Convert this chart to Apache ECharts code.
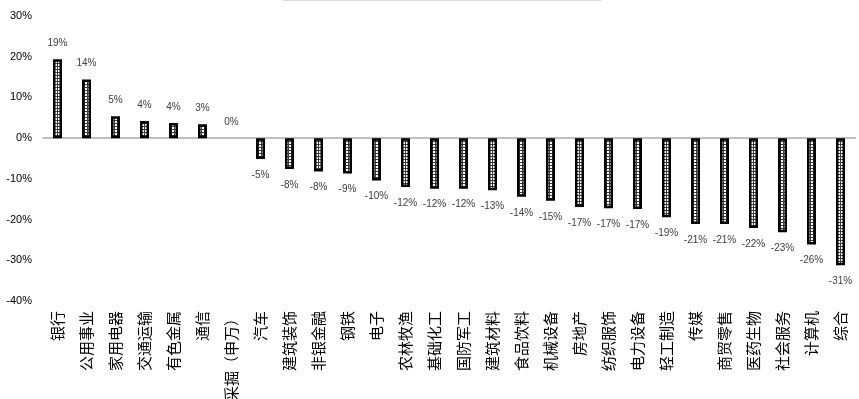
<!DOCTYPE html>
<html>
<head>
<meta charset="utf-8">
<script src="https://cdn.jsdelivr.net/npm/echarts@6/dist/echarts.min.js"></script>
<style>
  html, body { margin: 0; padding: 0; background: #fff; }
  #container { width: 859px; height: 399px; }
</style>
</head>
<body>
<div id="container"></div>
<script>
// industries (申万一级), sorted by return
let categories = ['银行', '公用事业', '家用电器', '交通运输', '有色金属', '通信', '采掘（申万）',
    '汽车', '建筑装饰', '非银金融', '钢铁', '电子', '农林牧渔', '基础化工', '国防军工',
    '建筑材料', '食品饮料', '机械设备', '房地产', '纺织服饰', '电力设备', '轻工制造',
    '传媒', '商贸零售', '医药生物', '社会服务', '计算机', '综合'];

// return in %
let returns = [19.4, 14.4, 5.4, 4.2, 3.7, 3.4, 0,
    -5.1, -7.6, -8.2, -8.7, -10.4, -12.0, -12.4, -12.4,
    -12.8, -14.4, -15.4, -16.9, -17.2, -17.4, -19.4,
    -21.1, -21.1, -22.1, -23.1, -26.1, -31.2];

let yTicks = { min: -40, max: 30, step: 10 };

// small grid fill for the bars
function gridPattern() {
    let c = document.createElement('canvas');
    c.width = 3;
    c.height = 3;
    let ctx = c.getContext('2d');
    ctx.fillStyle = '#fff';
    ctx.fillRect(0, 0, 3, 3);
    ctx.fillStyle = '#3a3a3a';
    ctx.fillRect(0, 0, 3, 1);
    ctx.fillRect(0, 0, 1, 3);
    return c;
}

let dom = document.getElementById('container');
let chart = echarts.init(dom, null, { renderer: 'canvas' });

chart.setOption({
    animation: false,
    backgroundColor: '#fff',
    grid: { left: 43, right: 4, top: 16, bottom: 98, outerBoundsMode: 'none', containLabel: false },
    graphic: [{
        type: 'rect',
        shape: { x: 283, y: 0, width: 318, height: 1 },
        style: { fill: '#d9d9d9' },
        silent: true
    }],
    xAxis: [{
        type: 'category',
        data: categories,
        axisLine: { show: false, onZero: false },
        axisTick: { show: false },
        axisLabel: {
            rotate: 90,
            interval: 0,
            margin: 10,
            color: '#000',
            fontSize: 15,
            fontFamily: 'Noto Sans CJK SC'
        }
    }, {
        type: 'category',
        data: categories,
        position: 'bottom',
        axisLine: { show: true, onZero: true, lineStyle: { color: '#bfbfbf', width: 2 } },
        axisTick: { show: false },
        axisLabel: { show: false }
    }],
    yAxis: {
        type: 'value',
        min: yTicks.min,
        max: yTicks.max,
        interval: yTicks.step,
        axisLine: { show: false },
        axisTick: { show: false },
        splitLine: { show: false },
        axisLabel: {
            margin: 11,
            color: '#000',
            fontSize: 11,
            fontFamily: 'Liberation Sans',
            formatter: (v) => v + '%'
        }
    },
    series: [{
        type: 'bar',
        xAxisIndex: 0,
        data: returns.map((v) => ({
            value: v,
            label: { position: v < 0 ? 'bottom' : 'top' },
            itemStyle: v === 0 ? { borderWidth: 0 } : {}
        })),
        barWidth: 9,
        itemStyle: {
            color: { image: gridPattern(), repeat: 'repeat' },
            borderColor: '#000',
            borderWidth: 2.5
        },
        label: {
            show: true,
            distance: 11,
            color: '#404040',
            fontSize: 10,
            fontFamily: 'Liberation Sans',
            formatter: (p) => Math.round(p.value) + '%'
        }
    }]
});
</script>
</body>
</html>
